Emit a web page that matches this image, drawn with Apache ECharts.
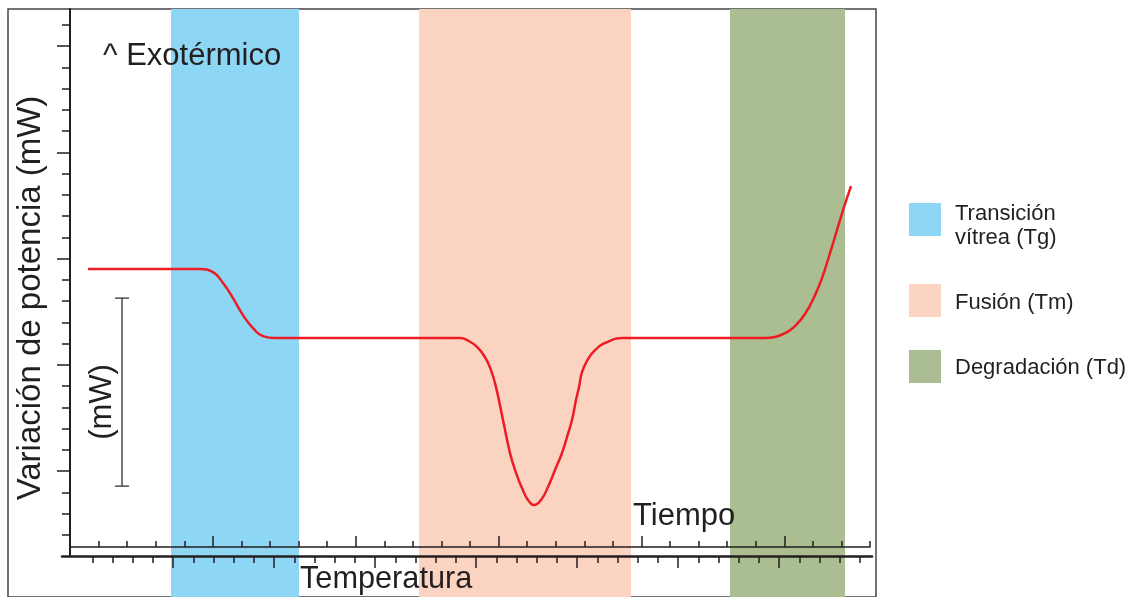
<!DOCTYPE html>
<html>
<head>
<meta charset="utf-8">
<script src="https://cdn.jsdelivr.net/npm/echarts@6/dist/echarts.min.js"></script>
<style>
html, body { margin: 0; padding: 0; background: #fff; }
#chart { width: 1134px; height: 597px; }
</style>
</head>
<body>
<div id="chart"></div>
<script>
// curva DSC (x: temperatura relativa 0-400, y: potencia relativa)
const curveX = [9, 65, 71.5, 76.5, 81.5, 86.5, 91.5, 96.5, 102.5,
  195, 199, 203.5, 207.5, 210.5, 213, 216.5, 220, 223, 226,
  229, 232, 235.5, 239, 242.5, 246, 248.5, 251, 253, 254.5,
  256, 258.5, 262.5, 268.5, 276.5,
  347.5, 352.5, 357.5, 362.5, 367.5, 372.5, 376, 380, 383.5, 387, 390.5]
const curveY = [13.51, 13.51, 13.36, 12.85, 12.14, 11.34, 10.73, 10.35, 10.26,
  10.26, 10.14, 9.84, 9.36, 8.75, 7.95, 6.40, 4.85, 3.91, 3.20,
  2.64, 2.40, 2.64, 3.25, 4.05, 4.85, 5.60, 6.40, 7.34, 7.95,
  8.66, 9.18, 9.69, 10.07, 10.26,
  10.26, 10.31, 10.49, 10.82, 11.39, 12.28, 13.08, 14.26, 15.34, 16.42, 17.41]

// zonas de transicion
const bandNames = ['Transición\nvítrea (Tg)', 'Fusión (Tm)', 'Degradación (Td)']
const bandStart = [50.5, 174.5, 330]
const bandEnd = [114.5, 280.5, 387.5]
const bandColors = ['#8dd7f5', '#fbd3c1', '#abbe91']

// barra de escala (mW): x, y inferior, y superior
const scaleBar = [26, 3.29, 12.14]

// marcas de los ejes (sin etiquetas)
const powerTicks = Array.from({ length: 25 }, (v, i) => i + 1)
const powerMajor = [4, 9, 14, 19, 24]
const timeTicks = Array.from({ length: 28 }, (v, i) => i + 1)
const timeMajor = [5, 10, 15, 20, 25]
const tempTicks = Array.from({ length: 39 }, (v, i) => i + 1)
const tempMajor = [5, 10, 15, 20, 25, 30, 35]

const FONT = '"Liberation Sans", Arial, Helvetica, sans-serif'
const INK = '#231f20'
const legendTops = [189.5, 284, 350]
const legendShift = [12, 4, 2]

let myChart = echarts.init(document.getElementById('chart'))

function tickAxis (grid, pos, min, max, ticks, len, inside, line) {
  return {
    type: 'value',
    gridIndex: grid,
    position: pos,
    min: min,
    max: max,
    z: 3,
    axisLine: { show: !!line, lineStyle: { color: INK, width: line || 1 } },
    axisTick: { show: true, customValues: ticks, length: len, inside: inside, lineStyle: { color: INK, width: 1.5 } },
    axisLabel: { show: false },
    splitLine: { show: false }
  }
}

let option = {
  animation: false,
  backgroundColor: '#fff',
  grid: [
    { left: 70, right: 264, top: 9, bottom: 41 },
    { left: 70, right: 264, top: 9, bottom: 50 },
    { left: 62, right: 262, top: 9, bottom: 41 },
    { left: 70, right: 264, top: 9, bottom: 0 },
    { left: 8, right: 258, top: 9, bottom: -20, show: true, borderColor: '#444', borderWidth: 1.5, backgroundColor: 'transparent' }
  ],
  xAxis: [
    { type: 'value', gridIndex: 0, min: 0, max: 400, show: false },
    tickAxis(1, 'bottom', 0, 28, timeTicks, 6, true, 1.5),
    tickAxis(1, 'bottom', 0, 28, timeMajor, 11, true, 0),
    tickAxis(2, 'bottom', -0.5, 39.6, tempTicks, 7, false, 2.5),
    tickAxis(2, 'bottom', -0.5, 39.6, tempMajor, 12, false, 0),
    { type: 'value', gridIndex: 3, min: 0, max: 400, show: false },
    { type: 'value', gridIndex: 4, min: 0, max: 1, show: false }
  ],
  yAxis: [
    tickAxis(0, 'left', 0, 25.75, powerTicks, 8, false, 2),
    tickAxis(0, 'left', 0, 25.75, powerMajor, 13, false, 0),
    { type: 'value', gridIndex: 1, min: 0, max: 1, show: false },
    { type: 'value', gridIndex: 2, min: 0, max: 1, show: false },
    { type: 'value', gridIndex: 3, min: 0, max: 1, show: false },
    { type: 'value', gridIndex: 4, min: 0, max: 1, show: false }
  ],
  legend: bandNames.map((name, i) => ({
    data: [name],
    orient: 'vertical',
    left: 909,
    top: legendTops[i],
    padding: 0,
    itemWidth: 32,
    itemHeight: 33,
    icon: 'rect',
    selectedMode: false,
    // linea vacia arriba para bajar un poco el texto respecto al cuadro
    formatter: n => '{s| }\n' + n,
    textStyle: {
      fontFamily: FONT,
      fontSize: 22,
      color: INK,
      lineHeight: i === 0 ? 24 : 22,
      padding: [0, 0, 0, 9],
      rich: { s: { fontSize: 1, lineHeight: legendShift[i] } }
    }
  })),
  graphic: [
    { type: 'text', x: 103, y: 56.5, z: 10, style: { text: '^ Exotérmico', font: '31px ' + FONT, fill: INK, verticalAlign: 'middle' } },
    { type: 'text', x: 633, y: 516.5, z: 10, style: { text: 'Tiempo', font: '31px ' + FONT, fill: INK, verticalAlign: 'middle' } },
    { type: 'text', x: 300, y: 580, z: 10, style: { text: 'Temperatura', font: '30.7px ' + FONT, fill: INK, verticalAlign: 'middle' } },
    { type: 'text', x: 102, y: 402, rotation: Math.PI / 2, z: 10, style: { text: '(mW)', font: '31px ' + FONT, fill: INK, align: 'center', verticalAlign: 'middle' } },
    { type: 'text', x: 31, y: 298, rotation: Math.PI / 2, z: 10, style: { text: 'Variación de potencia (mW)', font: '33px ' + FONT, fill: INK, align: 'center', verticalAlign: 'middle' } }
  ],
  series: bandNames.map((name, i) => ({
    name: name,
    type: 'custom',
    xAxisIndex: 5,
    yAxisIndex: 4,
    z: 1,
    silent: true,
    itemStyle: { color: bandColors[i] },
    data: [[bandStart[i], bandEnd[i]]],
    renderItem: function (params, api) {
      let p0 = api.coord([api.value(0), 1])
      let p1 = api.coord([api.value(1), 0])
      return {
        type: 'rect',
        shape: { x: p0[0], y: p0[1], width: p1[0] - p0[0], height: p1[1] - p0[1] },
        style: { fill: bandColors[i] }
      }
    }
  })).concat([
    {
      name: 'curva',
      type: 'line',
      xAxisIndex: 0,
      yAxisIndex: 0,
      z: 5,
      silent: true,
      showSymbol: false,
      smooth: 0.5,
      lineStyle: { color: '#ed1c24', width: 2.5 },
      data: curveX.map((x, i) => [x, curveY[i]])
    },
    {
      name: 'escala',
      type: 'custom',
      xAxisIndex: 0,
      yAxisIndex: 0,
      z: 5,
      silent: true,
      data: [scaleBar],
      renderItem: function (params, api) {
        let top = api.coord([api.value(0), api.value(2)])
        let bot = api.coord([api.value(0), api.value(1)])
        let st = { stroke: INK, lineWidth: 1.2 }
        return {
          type: 'group',
          children: [
            { type: 'line', shape: { x1: top[0], y1: top[1], x2: bot[0], y2: bot[1] }, style: st },
            { type: 'line', shape: { x1: top[0] - 7, y1: top[1], x2: top[0] + 7, y2: top[1] }, style: st },
            { type: 'line', shape: { x1: bot[0] - 7, y1: bot[1], x2: bot[0] + 7, y2: bot[1] }, style: st }
          ]
        }
      }
    }
  ])
}

myChart.setOption(option, true)
</script>
</body>
</html>
